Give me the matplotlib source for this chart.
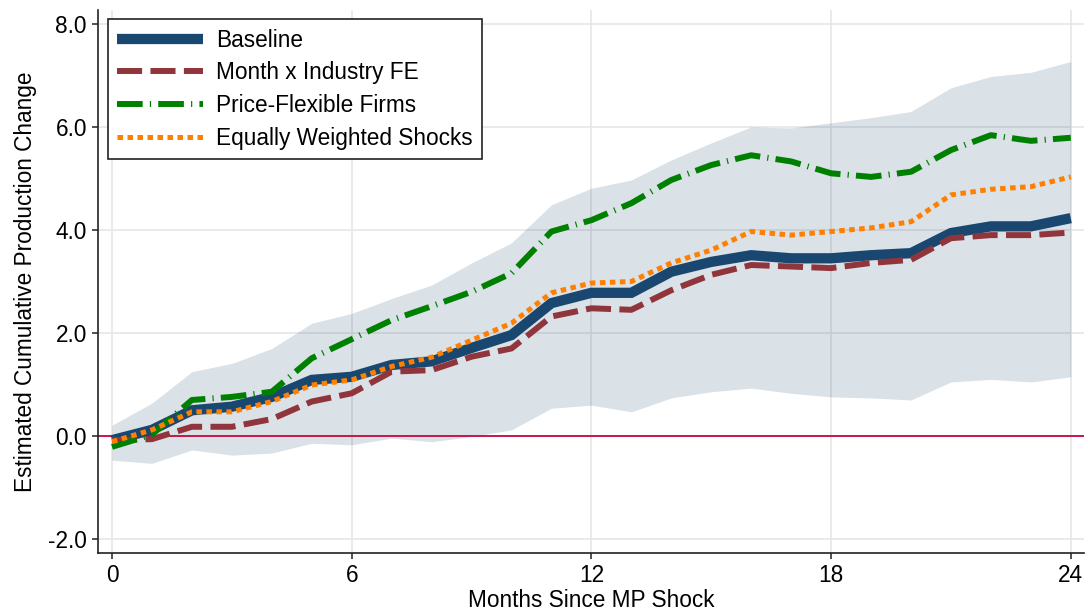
import matplotlib
matplotlib.use("Agg")
import matplotlib.pyplot as plt

plt.rcParams["font.family"] = ["Liberation Sans", "DejaVu Sans"]

months = list(range(25))
baseline = [-0.08, 0.12, 0.50, 0.57, 0.76, 1.09, 1.15, 1.38, 1.45, 1.71, 1.96, 2.58, 2.78,
            2.78, 3.19, 3.38, 3.51, 3.45, 3.45, 3.51, 3.55, 3.94, 4.07, 4.07, 4.23]
month_fe = [-0.08, -0.06, 0.18, 0.18, 0.33, 0.67, 0.83, 1.25, 1.28, 1.54, 1.70, 2.32, 2.48,
            2.45, 2.83, 3.13, 3.32, 3.29, 3.26, 3.36, 3.42, 3.84, 3.90, 3.90, 3.95]
flexible = [-0.21, 0.03, 0.70, 0.76, 0.86, 1.51, 1.88, 2.25, 2.52, 2.80, 3.16, 3.97, 4.19,
            4.52, 4.97, 5.26, 5.45, 5.33, 5.10, 5.03, 5.13, 5.55, 5.84, 5.73, 5.79]
equal_wt = [-0.11, 0.12, 0.47, 0.47, 0.67, 0.99, 1.09, 1.35, 1.53, 1.86, 2.19, 2.78, 2.97,
            3.00, 3.36, 3.61, 3.97, 3.90, 3.97, 4.04, 4.16, 4.68, 4.79, 4.84, 5.03]
ci_hi = [0.21, 0.64, 1.25, 1.41, 1.70, 2.19, 2.38, 2.67, 2.93, 3.36, 3.75, 4.49, 4.81,
         4.97, 5.36, 5.69, 6.00, 5.98, 6.08, 6.18, 6.30, 6.76, 6.98, 7.06, 7.27]
ci_lo = [-0.47, -0.53, -0.27, -0.37, -0.33, -0.14, -0.17, -0.04, -0.11, -0.01, 0.12, 0.54, 0.60,
         0.47, 0.74, 0.86, 0.93, 0.83, 0.76, 0.74, 0.70, 1.05, 1.10, 1.05, 1.15]

xticks = [0, 6, 12, 18, 24]
yticks = [-2.0, 0.0, 2.0, 4.0, 6.0, 8.0]

fs = 16.3

fig = plt.figure(figsize=(10.88, 6.12), dpi=100)
ax = fig.add_axes([0.0901, 0.0964, 0.9062, 0.8873])

ax.fill_between(months, ci_lo, ci_hi, color="#1a476f", alpha=0.16, linewidth=0, zorder=1)
ax.axhline(0, color="#c8164a", lw=1.4, zorder=2)

ax.plot(months, baseline, color="#1a476f", lw=7.4, solid_joinstyle="miter",
        solid_capstyle="butt", label="Baseline", zorder=3)
ax.plot(months, month_fe, color="#90353b", lw=4.3, dashes=(4.2, 1.4),
        label="Month x Industry FE", zorder=4)
ax.plot(months, flexible, color="#008000", lw=4.3, dashes=(4.3, 1.2, 0.2, 1.2),
        label="Price-Flexible Firms", zorder=5)
ax.plot(months, equal_wt, color="#ff8000", lw=3.6, dashes=(1.1, 0.9),
        label="Equally Weighted Shocks", zorder=6)

ax.set_xlim(-0.35, 24.33)
ax.set_ylim(-2.27, 8.27)
ax.set_xticks(xticks)
ax.set_yticks(yticks)
ax.set_yticklabels([f"{v:.1f}" for v in yticks])
ax.grid(True, color="#e6e6e6", lw=1.2, zorder=0)
ax.set_axisbelow(True)

for s in ["top", "right"]:
    ax.spines[s].set_visible(False)
for s in ["left", "bottom"]:
    ax.spines[s].set_linewidth(1.2)
    ax.spines[s].set_color("#222222")
ax.tick_params(axis="both", labelsize=fs, length=4.5, width=1.1, color="#222222")

ax.set_xlabel("Months Since MP Shock", fontsize=fs, labelpad=1)
ax.set_ylabel("Estimated Cumulative Production Change", fontsize=fs, labelpad=8)

leg = ax.legend(loc="upper left", fontsize=fs, handlelength=3.8, handletextpad=0.6,
                labelspacing=0.43, borderaxespad=0.42, borderpad=0.4, fancybox=False,
                framealpha=1)
leg.get_frame().set_edgecolor("#222222")
leg.get_frame().set_linewidth(1.2)

fig.savefig("out.png", dpi=100)
